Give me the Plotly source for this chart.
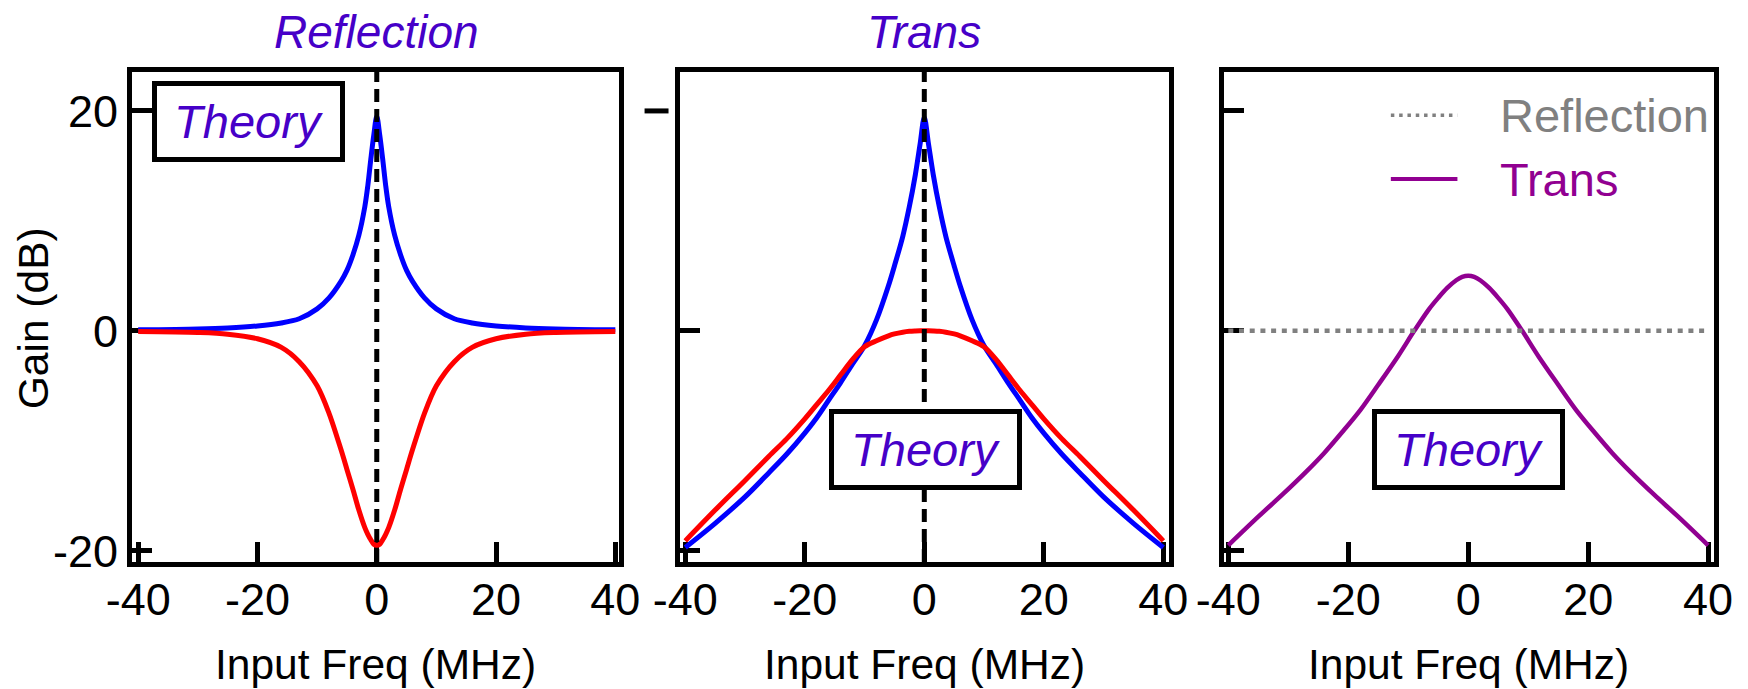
import plotly.graph_objects as go

FONT = "Liberation Sans, Arial, sans-serif"
TITLE_COLOR = "#4600C8"
BLUE = "#0000FF"
RED = "#FF0000"
PURPLE = "#910091"
GRAY = "#808080"

# ---- Reflection panel (MHz, dB) ----
refl_freq = [-40, -30, -25, -20, -16, -13, -10, -8, -6, -5, -4, -3, -2, -1.5, -1, -0.5,
             0, 0.5, 1, 1.5, 2, 3, 4, 5, 6, 8, 10, 13, 16, 20, 25, 30, 40]
refl_blue = [0.10, 0.18, 0.27, 0.45, 0.72, 1.10, 2.00, 3.00, 4.50, 5.50, 6.90, 8.70, 11.30, 13.20, 15.60, 17.80,
             19.50, 17.80, 15.60, 13.20, 11.30, 8.70, 6.90, 5.50, 4.50, 3.00, 2.00, 1.10, 0.72, 0.45, 0.27, 0.18, 0.10]
refl_red = [-0.06, -0.15, -0.30, -0.72, -1.50, -2.80, -5.00, -7.50, -10.80, -12.60, -14.40, -16.30, -17.90, -18.50, -19.00, -19.40,
            -19.50, -19.40, -19.00, -18.50, -17.90, -16.30, -14.40, -12.60, -10.80, -7.50, -5.00, -2.80, -1.50, -0.72, -0.30, -0.15, -0.06]

# ---- Trans panel ----
trans_freq = [-40, -35, -30, -26, -23, -20, -18, -16, -14, -12, -10, -8, -6, -5, -3.6, -2.5, -1.5, -0.7,
              0, 0.7, 1.5, 2.5, 3.6, 5, 6, 8, 10, 12, 14, 16, 18, 20, 23, 26, 30, 35, 40]
trans_blue = [-19.7, -17.5, -15.1, -12.9, -11.2, -9.3, -7.9, -6.3, -4.7, -3.0, -1.35, 1.0, 4.1, 5.9, 8.6, 11.3, 14.2, 17.0,
              19.4, 17.0, 14.2, 11.3, 8.6, 5.9, 4.1, 1.0, -1.35, -3.0, -4.7, -6.3, -7.9, -9.3, -11.2, -12.9, -15.1, -17.5, -19.7]
trans_red = [-19.1, -16.3, -13.6, -11.4, -9.8, -8.0, -6.7, -5.4, -4.0, -2.6, -1.45, -0.90, -0.45, -0.28, -0.12, -0.04, -0.01, 0.0,
             0.0, 0.0, -0.01, -0.04, -0.12, -0.28, -0.45, -0.90, -1.45, -2.6, -4.0, -5.4, -6.7, -8.0, -9.8, -11.4, -13.6, -16.3, -19.1]

# ---- Comparison panel ----
cmp_freq = [-40, -35, -31, -27, -24, -21, -18, -15, -11.7, -9, -6.5, -5, -3.5, -2, -1,
            0, 1, 2, 3.5, 5, 6.5, 9, 11.7, 15, 18, 21, 24, 27, 31, 35, 40]
cmp_trans = [-19.5, -16.9, -14.9, -12.8, -11.1, -9.2, -7.2, -4.9, -2.3, 0.0, 2.0, 3.0, 3.9, 4.6, 4.9,
             5.0, 4.9, 4.6, 3.9, 3.0, 2.0, 0.0, -2.3, -4.9, -7.2, -9.2, -11.1, -12.8, -14.9, -16.9, -19.5]
cmp_refl_freq = [-40, 40]
cmp_refl = [0.0, 0.0]

x_ticks = [-40, -20, 0, 20, 40]
y_ticks = [-20, 0, 20]
panel_titles = ["Reflection", "Trans"]
legend_names = ["Reflection", "Trans"]
box_label = "Theory"

fig = go.Figure()


def curve(x, y, color, axis, width=5, dash=None):
    fig.add_trace(go.Scatter(
        x=x, y=y, mode="lines", showlegend=False, hoverinfo="skip",
        xaxis="x" + axis, yaxis="y" + axis,
        line=dict(color=color, width=width, shape="spline", smoothing=0.9, dash=dash),
    ))


curve(refl_freq, refl_blue, BLUE, "")
curve(refl_freq, refl_red, RED, "")
curve(trans_freq, trans_blue, BLUE, "2")
curve(trans_freq, trans_red, RED, "2")
curve(cmp_freq, cmp_trans, PURPLE, "3", width=4.5)
curve(cmp_refl_freq, cmp_refl, GRAY, "3", width=4.5, dash="5px,5.7px")

axis_common = dict(
    showline=True, mirror=True, linewidth=5, linecolor="black",
    ticks="inside", ticklen=20, tickwidth=5, tickcolor="black",
    showgrid=False, zeroline=False, layer="below traces",
    tickfont=dict(family=FONT, size=45, color="black"),
)

domains = [[0.0, 0.30815], [0.34656, 0.65565], [0.68996, 1.0]]
x_ranges = [[-41.04, 40.70], [-40.84, 40.99], [-40.80, 40.98]]
y_range = [-21.02, 23.54]

layout = dict(
    width=1748, height=689,
    margin=dict(l=131.5, r=33.8, t=71.5, b=126.5, pad=0),
    paper_bgcolor="white", plot_bgcolor="white",
    font=dict(family=FONT, color="black"),
)
for i, name in enumerate(["", "2", "3"]):
    layout["xaxis" + name] = dict(
        axis_common, domain=domains[i], range=x_ranges[i],
        tickmode="array", tickvals=x_ticks, ticktext=[str(v) for v in x_ticks],
        anchor="y" + name, ticklabelstandoff=-6,
    )
    ydef = dict(axis_common, domain=[0, 1], range=y_range, anchor="x" + name, tickmode="array")
    if name == "":
        ydef.update(tickvals=y_ticks, ticktext=[str(v) for v in y_ticks])
    elif name == "2":
        ydef.update(tickvals=[-20, 0], showticklabels=False)
    else:
        ydef.update(tickvals=y_ticks, showticklabels=False)
    layout["yaxis" + name] = ydef
fig.update_layout(**layout)

# vertical dashed markers at zero detuning
for ax in ["", "2"]:
    fig.add_shape(type="line", xref="x" + ax, yref="y" + ax + " domain",
                  x0=0, x1=0, y0=0, y1=1,
                  line=dict(color="black", width=5, dash="13px,7px"))

# the +20 dB tick of the middle panel sits just outside its frame
fig.add_shape(type="line", xref="x2 domain", yref="y2",
              x0=-0.073, x1=-0.024, y0=20, y1=20,
              line=dict(color="black", width=5))

annotations = []
# panel titles
for ax, text in zip(["", "2"], panel_titles):
    annotations.append(dict(
        text=text, xref="x" + ax, yref="paper", x=0, y=1.0825,
        xanchor="center", yanchor="middle", showarrow=False,
        font=dict(family=FONT, size=46, color=TITLE_COLOR, style="italic"),
    ))

# "Theory" boxes
for ax, bx, by in [("", -21.5, 19.0), ("2", 0.2, -10.8), ("3", 0.1, -10.8)]:
    annotations.append(dict(
        text=box_label, xref="x" + ax, yref="y" + ax, x=bx, y=by,
        xanchor="center", yanchor="middle", showarrow=False,
        width=183, height=71, borderpad=0, borderwidth=5,
        bordercolor="black", bgcolor="white", align="center", valign="middle",
        font=dict(family=FONT, size=47, color=TITLE_COLOR, style="italic"),
    ))

# axis titles
for d in domains:
    annotations.append(dict(
        text="Input Freq (MHz)", xref="paper", yref="paper",
        x=(d[0] + d[1]) / 2, y=-0.2088, xanchor="center", yanchor="middle",
        showarrow=False, font=dict(family=FONT, size=42.5, color="black"),
    ))
annotations.append(dict(
    text="Gain (dB)", xref="paper", yref="paper", x=-0.0622, y=0.4967,
    xanchor="center", yanchor="middle", textangle=-90, showarrow=False,
    font=dict(family=FONT, size=42.5, color="black"),
))

# key for the comparison panel
for name, color, yk, dash, w in [(legend_names[0], GRAY, 19.6, "3.5px,4.8px", 3.5),
                                 (legend_names[1], PURPLE, 13.8, None, 4)]:
    fig.add_shape(type="line", xref="x3", yref="y3", x0=-12.9, x1=-1.8, y0=yk, y1=yk,
                  line=dict(color=color, width=w, dash=dash))
    annotations.append(dict(
        text=name, xref="x3", yref="y3", x=4.9, y=yk,
        xanchor="left", yanchor="middle", showarrow=False,
        font=dict(family=FONT, size=47, color=color),
    ))

fig.update_layout(annotations=annotations)
fig.write_html("out.html")
